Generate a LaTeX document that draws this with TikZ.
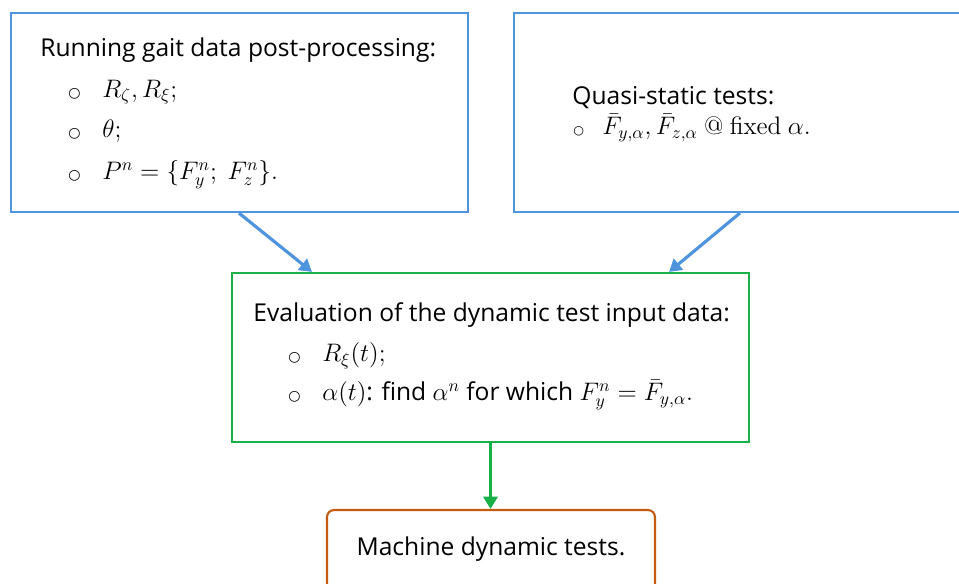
\documentclass[tikz,border=0pt]{standalone}
\usepackage{amsmath}
\usepackage{amssymb}
\usepackage[no-math]{fontspec}
\setmainfont{Open Sans}
\newfontfamily\symfont{DejaVu Sans}
\usepackage{tikz}
\usetikzlibrary{arrows.meta}
\usetikzlibrary{positioning}

\definecolor{boxblue}{RGB}{79,149,221}
\definecolor{boxgreen}{RGB}{24,176,72}
\definecolor{boxorange}{RGB}{197,90,17}

\newcommand{\bul}{\makebox[0.68cm][l]{\symfont\footnotesize ○}}
\newcommand{\sbul}{\makebox[0.58cm][l]{\symfont\scriptsize ○}}

\begin{document}
\begin{tikzpicture}[x=0.02cm,y=-0.02cm,
  blockblue/.style={draw=boxblue,line width=1.2pt},
  blockgreen/.style={draw=boxgreen,line width=1.2pt},
  blockorange/.style={draw=boxorange,line width=1.2pt,rounded corners=4pt},
  txt/.style={anchor=west,inner sep=0pt,font=\fontsize{14}{16}\selectfont},
  blueflow/.style={draw=boxblue,line width=1.8pt,-{Triangle[length=7pt,width=8pt]}},
  greenflow/.style={draw=boxgreen,line width=1.8pt,-{Triangle[length=7pt,width=8pt]}}]
\useasboundingbox (0,0) rectangle (959,584);
\clip (0,0) rectangle (959,584);

% the four blocks
\node[blockblue,minimum width=9.14cm,minimum height=3.98cm] at (239.5,112.5) (gait) {};
\node[blockblue,minimum width=9.3cm,minimum height=3.98cm] at (746.5,112.5) (quasi) {};
\node[blockgreen,minimum width=10.34cm,minimum height=3.38cm] at (490.5,357.5) (eval) {};
\node[blockorange,minimum width=6.56cm,minimum height=2.4cm] at (491,570) (machine) {};

% gait data
\node[txt] at (40,50) (gaithead) {Running gait data post-processing:};
\node[txt] at (68,92) (gaitR) {\bul$R_\zeta,R_\xi;$};
\node[txt] at (68,131) (gaittheta) {\bul$\theta;$};
\node[txt] at (68,175) (gaitP) {\bul$P^n=\{F_y^n;\ F_z^n\}.$};

% quasi-static tests
\node[txt] at (572,98) (quasihead) {Quasi-static tests:};
\node[txt] at (573,128) (quasiF) {\sbul$\bar F_{y,\alpha},\bar F_{z,\alpha}\ \mathrm{@\ fixed}\ \alpha.$};

% input data evaluation
\node[txt] at (253,315) (evalhead) {Evaluation of the dynamic test input data:};
\node[txt] at (288,356) (evalR) {\bul$R_\xi(t);$};
\node[txt] at (288,395) (evalalpha) {\bul$\alpha(t)$: find $\alpha^n$ for which $F_y^n=\bar F_{y,\alpha}.$};

\node[txt,anchor=center] at (491,549) (machinetxt) {Machine dynamic tests.};

\draw[blueflow] ([xshift=4.58cm]gait.south west) -- ([xshift=1.62cm]eval.north west);
\draw[blueflow] ([xshift=4.54cm]quasi.south west) -- ([xshift=-1.62cm]eval.north east);
\draw[greenflow] (eval.south) -- (eval.south |- machine.north);

\end{tikzpicture}
\end{document}
